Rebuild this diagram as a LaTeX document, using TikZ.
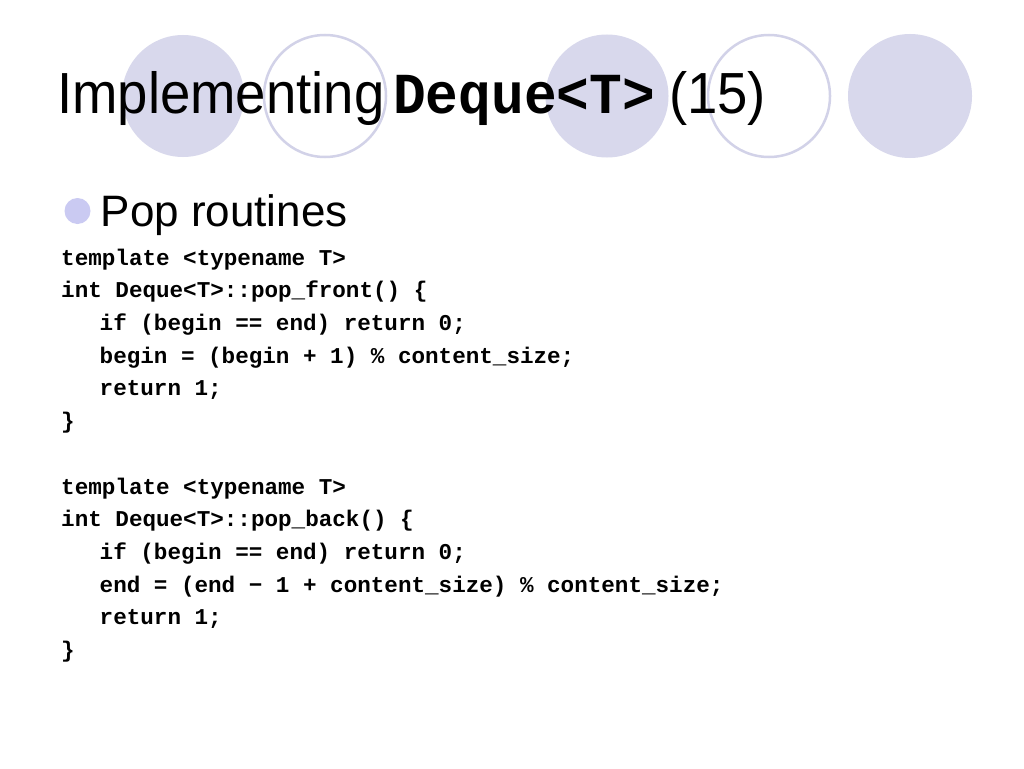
\documentclass[tikz,border=0pt]{standalone}
\usepackage{fontspec}
\setmainfont{Liberation Sans}
\newfontfamily\codefont{Liberation Mono}[Ligatures=NoCommon]
\definecolor{lav}{HTML}{D8D8EC}
\definecolor{lavline}{HTML}{D2D2E8}
\definecolor{bul}{HTML}{CACAF2}
\begin{document}
\begin{tikzpicture}[x=1pt,y=-1pt,
  disc/.style={fill=lav,draw=none},
  ring/.style={draw=lavline,line width=2.5pt,fill=white},
  titletext/.style={anchor=base west,inner sep=0pt,font=\fontsize{58}{60}\selectfont},
  codeline/.style={anchor=base west,inner sep=0pt,font=\codefont\bfseries\fontsize{22.6}{26}\selectfont}]
\useasboundingbox (0,0) rectangle (1024,768);
\fill[white] (0,0) rectangle (1024,768);
% decorative circles
\path[disc] (183,96) circle (61);
\path[ring] (325,96) circle (61);
\path[disc] (607,96) circle (61.5);
\path[ring] (769,96) circle (61);
\path[disc] (910,96) circle (62);
% title
\node[titletext] (t1) at (57,113) {\scalebox{0.94}[1]{Implementing}};
\node[titletext] (t2) at (393,113) {\scalebox{0.94}[1]{\codefont\bfseries Deque<T>}};
\node[titletext] (t3) at (669,113) {\scalebox{0.94}[1]{(15)}};
% bullet
\path[fill=bul] (77.5,211) circle (13);
\node[anchor=base west,inner sep=0pt,font=\fontsize{44}{46}\selectfont] (pop) at (100.5,226) {Pop routines};
% code
\node[codeline] (c1) at (61,265) {template <typename T>};
\node[codeline] (c2) at (61,297.7) {int Deque<T>::pop\_front() \{};
\node[codeline] (c3) at (99.5,330.4) {if (begin == end) return 0;};
\node[codeline] (c4) at (99.5,363.2) {begin = (begin + 1) \% content\_size;};
\node[codeline] (c5) at (99.5,395.9) {return 1;};
\node[codeline] (c6) at (61,428.6) {\}};
\node[codeline] (c7) at (61,494) {template <typename T>};
\node[codeline] (c8) at (61,526.8) {int Deque<T>::pop\_back() \{};
\node[codeline] (c9) at (99.5,559.5) {if (begin == end) return 0;};
\node[codeline] (c10) at (99.5,592.2) {end = (end − 1 + content\_size) \% content\_size;};
\node[codeline] (c11) at (99.5,624.9) {return 1;};
\node[codeline] (c12) at (61,657.6) {\}};
\end{tikzpicture}
\end{document}
